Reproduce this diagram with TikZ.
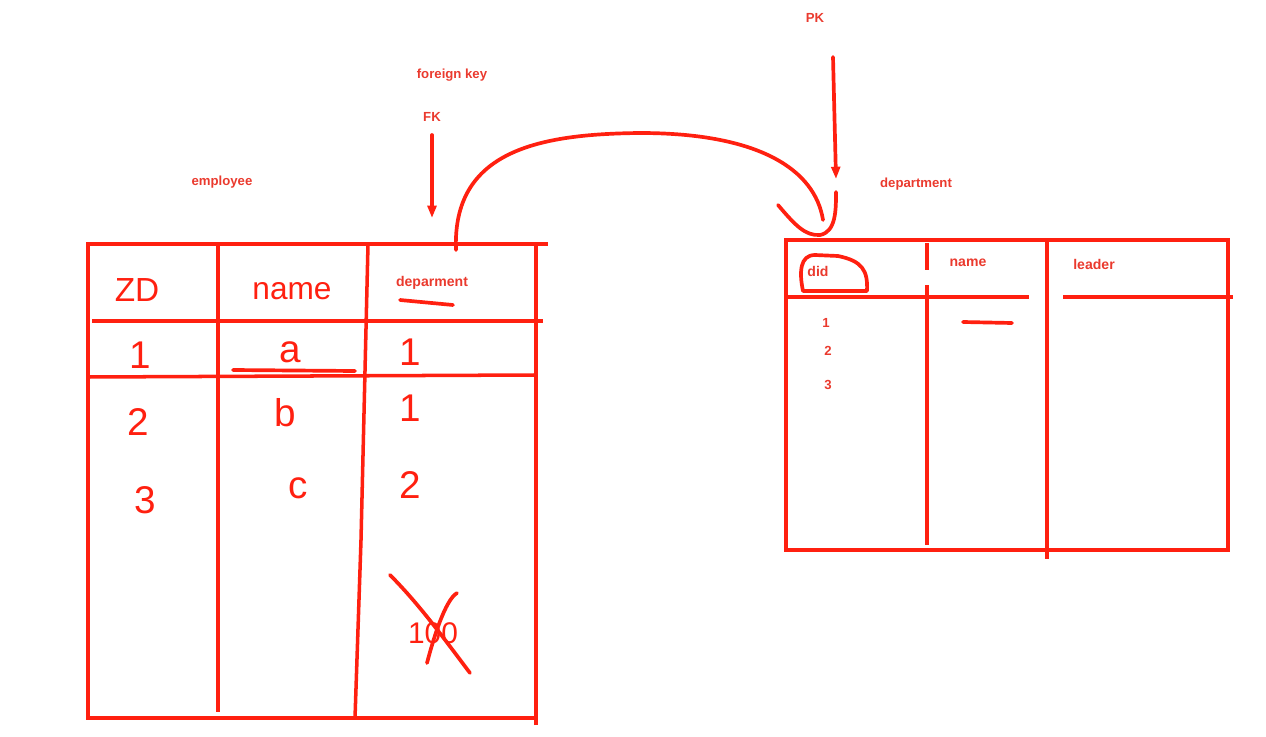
\documentclass[tikz,border=0pt]{standalone}
\usepackage{fontspec}
\setmainfont{Liberation Sans}
\usetikzlibrary{arrows.meta}
\definecolor{cline}{HTML}{FF2010}
\definecolor{ctext}{HTML}{EA3A2E}
\tikzset{
  every picture/.style={x=0.02cm, y=-0.02cm},
  hand/.style={draw=cline, line width=2.1pt, line cap=round, line join=round},
  grid/.style={draw=cline, line width=2pt},
  arrow/.style={hand, -{Triangle[length=7pt, width=5pt]}},
  label/.style={text=ctext, font=\fontsize{7.5}{9}\selectfont\bfseries, inner sep=1pt},
  scrawl/.style={text=cline, font=\fontsize{22}{26}\selectfont, inner sep=0pt},
}
\begin{document}
\begin{tikzpicture}
  \useasboundingbox (0,0) rectangle (1266,736);
  % labels above the tables
  \node[label] (emp) at (222,182) {employee};
  \node[label] (fkname) at (452,75) {foreign key};
  \node[label] (fk) at (432,117) {FK};
  \node[label] (pk) at (815,18) {PK};
  \node[label] (dept) at (916,184) {department};
  % employee table
  \draw[grid] (536,725) -- (536,244) -- (548,244);
  \draw[grid] (536,244) -- (88,244) -- (88,718) -- (536,718);
  \draw[grid] (218,244) -- (218,712);
  \draw[grid] (368,244) -- (361,540) -- (355,718);
  \draw[grid] (92,321) -- (543,321);
  \draw[grid] (88,377) -- (535,375);
  \node[label, font=\fontsize{8}{10}\selectfont\bfseries] (fkcol) at (432,283) {deparment};
  \draw[hand] (400,300) -- (453,305);
  \node[scrawl, font=\fontsize{19}{22}\selectfont] (hid) at (137,290) {ZD};
  \node[scrawl, font=\fontsize{18}{22}\selectfont] (hname) at (292,291) {name};
  \node[scrawl] (e1) at (140,355) {1};
  \node[scrawl] (ea) at (290,352) {a};
  \draw[hand] (233,370) -- (355,371);
  \node[scrawl] (d1) at (410,352) {1};
  \node[scrawl] (e2) at (138,422) {2};
  \node[scrawl] (eb) at (285,413) {b};
  \node[scrawl] (d2) at (410,408) {1};
  \node[scrawl] (e3) at (145,500) {3};
  \node[scrawl] (ec) at (298,488) {c};
  \node[scrawl] (d3) at (410,485) {2};
  \node[scrawl, font=\fontsize{17}{20}\selectfont] (bad) at (433,633) {100};
  \draw[hand] (390,575) .. controls (420,605) and (445,640) .. (470,673);
  \draw[hand] (457,593) .. controls (445,600) and (433,640) .. (427,663);
  % department table
  \draw[grid] (786,240) rectangle (1228,550);
  \draw[grid] (927,243) -- (927,270);
  \draw[grid] (927,285) -- (927,545);
  \draw[grid] (1047,240) -- (1047,559);
  \draw[grid] (786,297) -- (1029,297);
  \draw[grid] (1063,297) -- (1233,297);
  \node[label, font=\fontsize{8}{10}\selectfont\bfseries] (did) at (818,271) {did};
  \draw[hand] (803,291) .. controls (799,272) and (800,255) .. (815,255)
    -- (838,256) .. controls (862,261) and (868,270) .. (867,291) -- cycle;
  \node[label, font=\fontsize{8}{10}\selectfont\bfseries] (dname) at (968,263) {name};
  \node[label, font=\fontsize{8}{10}\selectfont\bfseries] (lead) at (1094,264) {leader};
  \node[label] (k1) at (826,323) {1};
  \node[label] (k2) at (828,351) {2};
  \node[label] (k3) at (828,385) {3};
  \draw[hand] (963,322) -- (1012,323);
  % key arrows and link
  \coordinate (fkstart) at (432,135);
  \coordinate (fktip) at (432,218);
  \coordinate (pkstart) at (833,57);
  \coordinate (pktip) at (836,179);
  \coordinate (fktop) at (456,250);
  \coordinate (pkhook) at (823,220);
  \draw[arrow] (fkstart) -- (fktip);
  \draw[arrow] (pkstart) -- (pktip);
  \draw[hand] (fktop) .. controls (452,150) and (540,134) .. (640,133)
    .. controls (760,133) and (815,170) .. (pkhook);
  \draw[hand] (778,205) .. controls (795,225) and (805,236) .. (820,235)
    .. controls (836,232) and (836,210) .. (836,192);
\end{tikzpicture}
\end{document}
